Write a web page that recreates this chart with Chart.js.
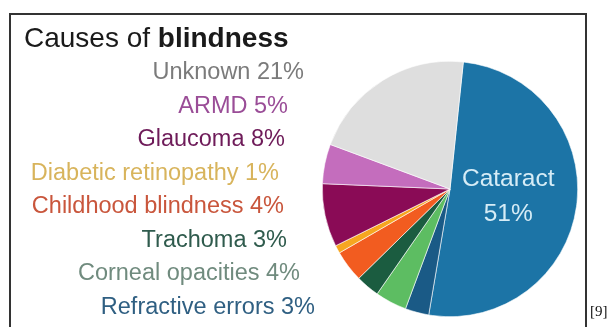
<!DOCTYPE html>
<html>
<head>
<meta charset="utf-8">
<script src="https://cdn.jsdelivr.net/npm/chart.js@4/dist/chart.umd.min.js"></script>
<style>
  body { margin: 0; background: #fff; }
  #wrap { position: relative; width: 612px; height: 327px; }
</style>
</head>
<body>
<div id="wrap"><canvas id="blindnessChart" width="612" height="327"></canvas></div>
<script>
// causes, clockwise from the top
const causes = ['Cataract', 'Refractive errors', 'Corneal opacities', 'Trachoma',
  'Childhood blindness', 'Diabetic retinopathy', 'Glaucoma', 'ARMD', 'Unknown'];
const shares = [51, 3, 4, 3, 4, 1, 8, 5, 21];

const sliceColors = ['#1c74a6', '#1a5a86', '#5dbd62', '#1b5c40',
  '#f25c20', '#f6a620', '#8a0b56', '#c46dbd', '#dedede'];
const textColors = ['#d6ecf6', '#2f5f82', '#708b7e', '#2f5b4d',
  '#c9563c', '#d8b45c', '#6e1b59', '#9a4d97', '#7b7b7b'];

// label list on the left, top to bottom (indexes into causes)
const listOrder = [8, 7, 6, 5, 4, 3, 2, 1];
const listRight = [304, 288, 285, 279, 284, 287, 300, 315];

const labelsPlugin = {
  id: 'labels',
  afterDraw(chart) {
    const ctx = chart.ctx;
    ctx.save();
    // frame
    ctx.strokeStyle = '#333';
    ctx.lineWidth = 2;
    ctx.beginPath();
    ctx.moveTo(10, 340);
    ctx.lineTo(10, 14);
    ctx.lineTo(586, 14);
    ctx.lineTo(586, 340);
    ctx.stroke();

    // title
    ctx.fillStyle = '#1a1a1a';
    ctx.textBaseline = 'alphabetic';
    ctx.textAlign = 'left';
    ctx.font = '28px "Liberation Sans", Arial, sans-serif';
    const first = 'Causes of ';
    ctx.fillText(first, 24, 47);
    const w = ctx.measureText(first).width;
    ctx.font = 'bold 28px "Liberation Sans", Arial, sans-serif';
    ctx.fillText('blindness', 24 + w, 47);

    // list
    ctx.font = '23.5px "Liberation Sans", Arial, sans-serif';
    ctx.textAlign = 'right';
    ctx.textBaseline = 'middle';
    listOrder.forEach((i, k) => {
      ctx.fillStyle = textColors[i];
      ctx.fillText(causes[i] + ' ' + shares[i] + '%', listRight[k], 73 + k * 33.5);
    });

    // label inside the biggest slice
    const arc = chart.getDatasetMeta(0).data[0];
    const p = arc.tooltipPosition();
    ctx.textAlign = 'center';
    ctx.fillStyle = textColors[0];
    ctx.font = '24.5px "Liberation Sans", Arial, sans-serif';
    ctx.fillText(causes[0], p.x - 5, p.y - 18);
    ctx.fillText(shares[0] + '%', p.x - 5, p.y + 17);

    // reference mark
    ctx.fillStyle = '#111';
    ctx.textAlign = 'left';
    ctx.textBaseline = 'alphabetic';
    ctx.font = '15px "Liberation Serif", serif';
    ctx.fillText('[9]', 590, 316);
    ctx.restore();
  }
};

new Chart(document.getElementById('blindnessChart'), {
  type: 'pie',
  data: {
    labels: causes,
    datasets: [{
      data: shares,
      backgroundColor: sliceColors,
      borderColor: '#ffffff',
      borderWidth: 0.6
    }]
  },
  options: {
    responsive: false,
    animation: false,
    rotation: 6,
    layout: { padding: { left: 322, right: 34, top: 61, bottom: 10 } },
    plugins: {
      legend: { display: false },
      tooltip: { enabled: false }
    }
  },
  plugins: [labelsPlugin]
});
</script>
</body>
</html>
